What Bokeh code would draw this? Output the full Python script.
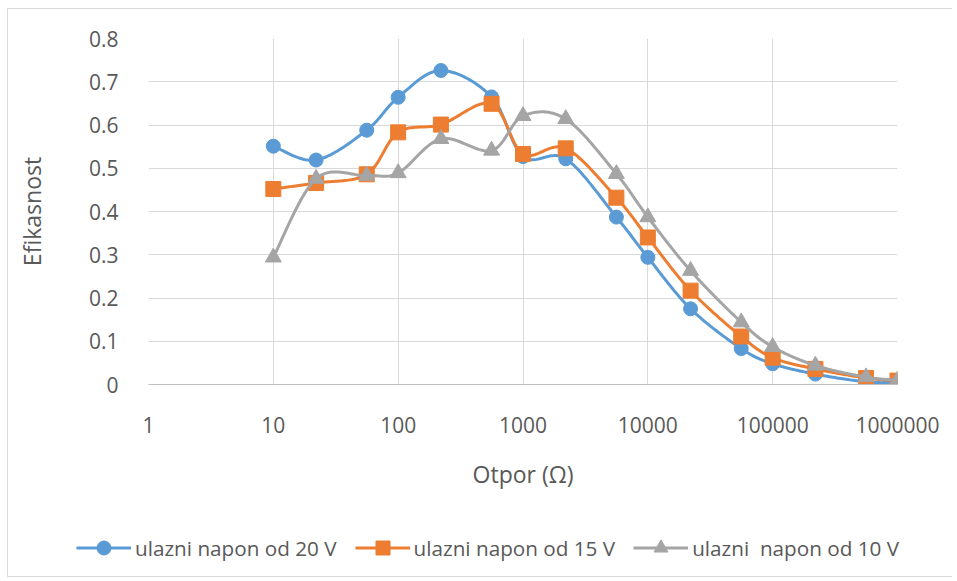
import numpy as np
from bokeh.plotting import figure
from bokeh.models import Range1d, FixedTicker, Legend, LegendItem
from bokeh.embed import file_html
from bokeh.resources import INLINE

# ---- data ----
otpor = [10, 22, 56, 100, 220, 560, 1000, 2200, 5600, 10000, 22000,
         56000, 100000, 220000, 560000, 1000000]
eff_20 = [0.551, 0.519, 0.588, 0.664, 0.726, 0.665, 0.527, 0.522, 0.387,
          0.294, 0.175, 0.083, 0.048, 0.024, 0.006, 0.005]
eff_15 = [0.452, 0.466, 0.486, 0.583, 0.601, 0.649, 0.533, 0.546, 0.432,
          0.340, 0.217, 0.111, 0.062, 0.036, 0.015, 0.009]
eff_10 = [0.294, 0.476, 0.483, 0.489, 0.568, 0.541, 0.621, 0.614, 0.487,
          0.387, 0.263, 0.144, 0.087, 0.044, 0.017, 0.010]
series_labels = ["ulazni napon od 20 V", "ulazni napon od 15 V", "ulazni  napon od 10 V"]
x_ticks = [1, 10, 100, 1000, 10000, 100000, 1000000]
x_tick_labels = ["1", "10", "100", "1000", "10000", "100000", "1000000"]
y_ticks = [0, 0.1, 0.2, 0.3, 0.4, 0.5, 0.6, 0.7, 0.8]
y_tick_labels = ["0", "0.1", "0.2", "0.3", "0.4", "0.5", "0.6", "0.7", "0.8"]

colors = ["#5B9BD5", "#ED7D31", "#A5A5A5"]
markers = ["circle", "square", "triangle"]
msizes = [14, 15, 16]
FONT = "Open Sans"
TXT = "#595959"
GRID = "#D9D9D9"
BORDER = "1px solid #D9D9D9"


def smooth(xs, ys, n=30):
    """Excel-like smoothed line (Catmull-Rom Bezier) in log-x space."""
    P = np.column_stack([np.log10(xs), np.array(ys, dtype=float)])
    m = len(P)
    out = [P[0]]
    t = np.linspace(0, 1, n)[1:, None]
    for i in range(m - 1):
        p0 = P[i - 1] if i > 0 else P[i]
        p1 = P[i]
        p2 = P[i + 1]
        p3 = P[i + 2] if i + 2 < m else P[i + 1]
        c1 = p1 + (p2 - p0) / 6.0
        c2 = p2 - (p3 - p1) / 6.0
        seg = ((1 - t) ** 3) * p1 + 3 * ((1 - t) ** 2) * t * c1 + 3 * (1 - t) * t ** 2 * c2 + t ** 3 * p2
        out.extend(seg)
    out = np.array(out)
    return 10 ** out[:, 0], out[:, 1]


W = 945
H_MAIN = 500
H_LEG = 69

p = figure(width=W, height=H_MAIN, x_axis_type="log",
           x_range=Range1d(1, 1000000), y_range=Range1d(0, 0.8),
           output_backend="svg", toolbar_location=None,
           min_border_left=140, min_border_right=56,
           min_border_top=29, min_border_bottom=125)
p.styles = {"margin-left": "7px", "margin-top": "8px",
            "border-left": BORDER, "border-top": BORDER}
p.outline_line_color = None
p.background_fill_color = "white"
p.border_fill_color = "white"

# axes
p.xaxis.ticker = FixedTicker(ticks=x_ticks, minor_ticks=[])
p.xaxis.major_label_overrides = {t: l for t, l in zip(x_ticks, x_tick_labels)}
p.yaxis.ticker = FixedTicker(ticks=y_ticks, minor_ticks=[])
p.yaxis.major_label_overrides = {t: l for t, l in zip(y_ticks, y_tick_labels)}
for ax in (p.xaxis[0], p.yaxis[0]):
    ax.major_tick_line_color = None
    ax.minor_tick_line_color = None
    ax.major_label_text_font = FONT
    ax.major_label_text_font_size = "21px"
    ax.major_label_text_color = TXT
    ax.axis_label_text_font = FONT
    ax.axis_label_text_font_size = "23px"
    ax.axis_label_text_font_style = "normal"
    ax.axis_label_text_color = TXT
p.xaxis.axis_line_color = "#BFBFBF"
p.yaxis.axis_line_color = None
p.xaxis.axis_label = "Otpor (Ω)"
p.yaxis.axis_label = "Efikasnost"
p.xaxis.major_label_standoff = 26
p.xaxis.axis_label_standoff = 22
p.yaxis.major_label_standoff = 24
p.yaxis.axis_label_standoff = 38

p.xgrid.ticker = FixedTicker(ticks=x_ticks, minor_ticks=[])
p.ygrid.ticker = FixedTicker(ticks=y_ticks, minor_ticks=[])
p.xgrid.grid_line_color = GRID
p.ygrid.grid_line_color = GRID
p.xgrid.grid_line_width = 1
p.ygrid.grid_line_width = 1

# legend strip: a separate root so the legend is not clipped by the plot frame
lf = figure(width=W, height=H_LEG, x_range=Range1d(0, 1), y_range=Range1d(0, 1),
            output_backend="svg", toolbar_location=None,
            min_border=0, min_border_left=0, min_border_right=0,
            min_border_top=0, min_border_bottom=0)
lf.styles = {"margin-left": "7px", "border-left": BORDER, "border-bottom": BORDER}
lf.axis.visible = False
lf.grid.visible = False
lf.outline_line_color = None
lf.background_fill_color = "white"
lf.border_fill_color = "white"

items = []
for ys, c, mk, ms, lab in zip([eff_20, eff_15, eff_10], colors, markers, msizes, series_labels):
    sx, sy = smooth(otpor, ys)
    p.line(sx, sy, line_color=c, line_width=3, line_join="round", line_cap="round")
    p.scatter(otpor, ys, marker=mk, size=ms, fill_color=c, line_color=c)
    # legend proxies in the strip (their data lie outside the strip's range)
    ln = lf.line(otpor, ys, line_color=c, line_width=3)
    sc = lf.scatter(otpor, ys, marker=mk, size=ms, fill_color=c, line_color=c)
    items.append(LegendItem(label=lab, renderers=[ln, sc]))

legend = Legend(items=items, orientation="horizontal", location=(68, 12),
                border_line_color=None, background_fill_alpha=0,
                glyph_width=55, glyph_height=35, label_height=35,
                label_standoff=4, spacing=18, padding=0, margin=0,
                label_text_font=FONT, label_text_font_size="20.7px",
                label_text_color=TXT)
lf.add_layout(legend)

open("out.html", "w").write(file_html([p, lf], INLINE))
